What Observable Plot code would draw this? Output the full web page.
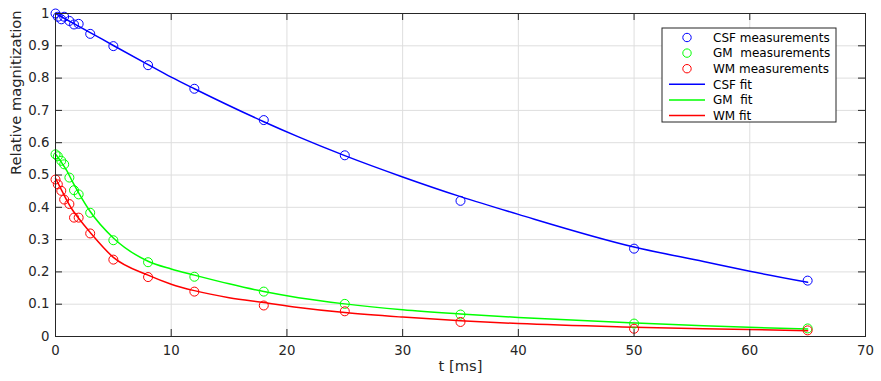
<!DOCTYPE html>
<html><head><meta charset="utf-8">
<script src="https://cdn.jsdelivr.net/npm/d3@7"></script>
<script src="https://cdn.jsdelivr.net/npm/@observablehq/plot@0.6"></script>
<style>
html,body{margin:0;padding:0;background:#fff}
svg{font-family:"DejaVu Sans",sans-serif}
</style>
</head><body><div id="chart"></div>
<script>
// ---- data ----
const tMeas = [0, 0.2, 0.5, 0.75, 1.2, 1.6, 2, 3, 5, 8, 12, 18, 25, 35, 50, 65];
const csfMeas = [1.0, 0.99, 0.982, 0.99, 0.977, 0.966, 0.968, 0.937, 0.899, 0.84, 0.767, 0.670, 0.561, 0.42, 0.272, 0.173];
const gmMeas  = [0.564, 0.558, 0.544, 0.533, 0.492, 0.453, 0.44, 0.383, 0.298, 0.230, 0.185, 0.139, 0.101, 0.068, 0.040, 0.025];
const wmMeas  = [0.486, 0.471, 0.451, 0.424, 0.41, 0.368, 0.368, 0.319, 0.238, 0.184, 0.139, 0.096, 0.078, 0.045, 0.024, 0.019];

const csfFitT = [0, 3, 5, 8, 10, 12, 18, 21, 25, 30, 35, 40, 50, 56, 60, 65];
const csfFit  = [1.0, 0.941, 0.901, 0.842, 0.803, 0.767, 0.665, 0.618, 0.56, 0.494, 0.433, 0.378, 0.277, 0.232, 0.202, 0.168];
const tisFitT = [0, 0.5, 1, 1.5, 2, 3, 5, 8, 10, 12, 15, 18, 21, 25, 30, 35, 40, 50, 56, 65];
const gmFit   = [0.565, 0.54, 0.512, 0.477, 0.445, 0.387, 0.305, 0.233, 0.209, 0.19, 0.163, 0.139, 0.12, 0.101, 0.083, 0.07, 0.059, 0.042, 0.033, 0.023];
const wmFit   = [0.49, 0.455, 0.42, 0.39, 0.366, 0.322, 0.245, 0.19, 0.162, 0.142, 0.12, 0.105, 0.09, 0.074, 0.06, 0.049, 0.04, 0.029, 0.024, 0.018];

const xTicks = [0, 10, 20, 30, 40, 50, 60, 70];
const yTicks = [0, 0.1, 0.2, 0.3, 0.4, 0.5, 0.6, 0.7, 0.8, 0.9, 1];
const xLabel = "t [ms]";
const yLabel = "Relative magnitization";
const legendItems = [
  {label: "CSF measurements", color: "#0000ff", kind: "dot"},
  {label: "GM  measurements", color: "#00ff00", kind: "dot"},
  {label: "WM measurements", color: "#ff0000", kind: "dot"},
  {label: "CSF fit", color: "#0000ff", kind: "line"},
  {label: "GM  fit", color: "#00ff00", kind: "line"},
  {label: "WM fit", color: "#ff0000", kind: "line"}
];

// ---- tables built from the arrays ----
const meas = (vals) => tMeas.map((t, i) => ({t, v: vals[i]}));
const fit = (ts, vals) => ts.map((t, i) => ({t, v: vals[i]}));

const W = 881, H = 381, mL = 55, mR = 16, mT = 13, mB = 45;
const plotW = W - mL - mR, plotH = H - mT - mB, tk = 7;
const axisColor = "#262626", gridColor = "#dedede";

const chart = Plot.plot({
  width: W, height: H,
  marginLeft: mL, marginRight: mR, marginTop: mT, marginBottom: mB,
  style: {fontFamily: '"DejaVu Sans", sans-serif', fontSize: "13.3px", color: axisColor, background: "#fff"},
  x: {domain: [0, 70], ticks: xTicks, tickSize: 0, tickPadding: 9, label: null, tickFormat: d => String(d)},
  y: {domain: [0, 1], ticks: yTicks, tickSize: 0, tickPadding: 6, label: null, tickFormat: d => String(d)},
  marks: [
    Plot.ruleX(xTicks, {x: d => d, stroke: gridColor, strokeWidth: 1}),
    Plot.ruleY(yTicks, {y: d => d, stroke: gridColor, strokeWidth: 1}),
    Plot.line(fit(csfFitT, csfFit), {x: "t", y: "v", stroke: "#0000ff", strokeWidth: 1.5, curve: "monotone-x"}),
    Plot.line(fit(tisFitT, gmFit), {x: "t", y: "v", stroke: "#00ff00", strokeWidth: 1.5, curve: "monotone-x"}),
    Plot.line(fit(tisFitT, wmFit), {x: "t", y: "v", stroke: "#ff0000", strokeWidth: 1.5, curve: "monotone-x"}),
    Plot.dot(meas(csfMeas), {x: "t", y: "v", r: 4.5, stroke: "#0000ff", fill: "none", strokeWidth: 1}),
    Plot.dot(meas(gmMeas), {x: "t", y: "v", r: 4.5, stroke: "#00ff00", fill: "none", strokeWidth: 1}),
    Plot.dot(meas(wmMeas), {x: "t", y: "v", r: 4.5, stroke: "#ff0000", fill: "none", strokeWidth: 1}),
    Plot.frame({stroke: axisColor, strokeWidth: 1}),
    Plot.tickX(xTicks, {x: d => d, insetTop: plotH - tk, stroke: axisColor}),
    Plot.tickX(xTicks, {x: d => d, insetBottom: plotH - tk, stroke: axisColor}),
    Plot.tickY(yTicks, {y: d => d, insetRight: plotW - tk, stroke: axisColor}),
    Plot.tickY(yTicks, {y: d => d, insetLeft: plotW - tk, stroke: axisColor}),
    Plot.text([xLabel], {text: d => d, frameAnchor: "bottom", dy: 34, fontSize: 14.7, fill: axisColor}),
    Plot.text([yLabel], {text: d => d, frameAnchor: "left", dx: -39, rotate: -90, fontSize: 14.7, fill: axisColor})
  ]
});
document.getElementById("chart").appendChild(chart);

// ---- legend (inside the axes, top-right) ----
const svg = d3.select(chart);
const lg = svg.append("g").attr("transform", "translate(662,28)");
const lgW = 174, lgH = 94;
lg.append("rect").attr("width", lgW).attr("height", lgH).attr("fill", "#fff").attr("stroke", axisColor).attr("stroke-width", 1);
legendItems.forEach((it, i) => {
  const y = 9.5 + i * 15.6;
  if (it.kind === "dot") {
    lg.append("circle").attr("cx", 25).attr("cy", y).attr("r", 4.2).attr("fill", "none").attr("stroke", it.color).attr("stroke-width", 1);
  } else {
    lg.append("line").attr("x1", 7).attr("x2", 43).attr("y1", y).attr("y2", y).attr("stroke", it.color).attr("stroke-width", 1.5);
  }
  lg.append("text").attr("x", 51).attr("y", y).attr("dy", "0.36em").attr("font-size", 12).attr("fill", "#000")
    .attr("text-anchor", "start").style("white-space", "pre").text(it.label);
});
</script>
</body></html>
